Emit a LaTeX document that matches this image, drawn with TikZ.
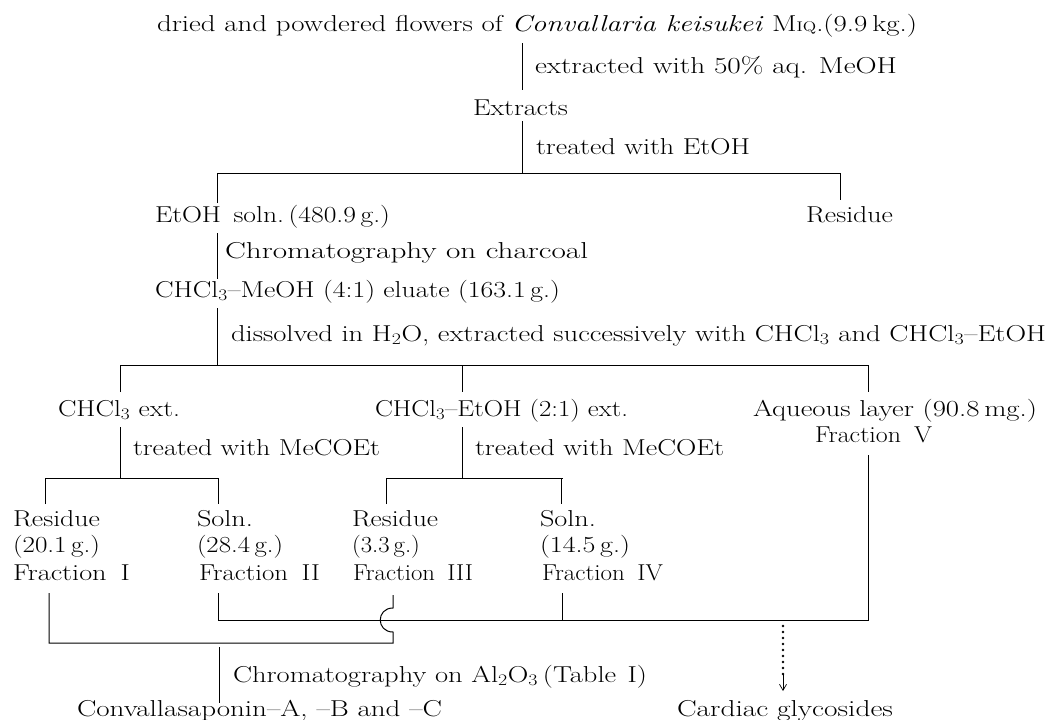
\documentclass[tikz,border=0pt]{standalone}
\usepackage{fontspec}
\usepackage{graphicx}
\usetikzlibrary{arrows.meta}
\newcommand\fitto[2]{\resizebox{#1pt}{\height}{#2}}
\newcommand\chl{CHCl\textsubscript{3}}
\begin{document}
\begin{tikzpicture}[x=1pt,y=-1pt,
  tx/.style={anchor=base west, inner sep=0pt, outer sep=0pt, font=\fontsize{23}{27}\selectfont},
  ln/.style={line width=1pt, line cap=butt},
  dots/.style={line width=2.8pt, line cap=round, dash pattern=on 0pt off 6pt}]
\useasboundingbox (0,0) rectangle (1050,720);
% ---------- texts ----------
\node[tx] (top) at (157,31) {\fitto{760}{dried and powdered flowers of \textit{Convallaria keisukei} M{\fontsize{14}{14}\selectfont IQ}.(9.9\,kg.)}};
\node[tx] (s1) at (535,74) {\fitto{362}{extracted with 50\% aq. MeOH}};
\node[tx] (ext) at (473,115) {\fitto{95}{Extracts}};
\node[tx] (s2) at (536,154) {\fitto{214}{treated with EtOH}};
\node[tx] (etoh) at (155,222) {\fitto{235}{EtOH\hspace*{0.45em}soln.\,(480.9\,g.)}};
\node[tx] (res0) at (806,222) {\fitto{87}{Residue}};
\node[tx] (s3) at (225,258) {\fitto{363}{Chromatography on charcoal}};
\node[tx] (elu) at (155,297) {\fitto{405}{\chl--MeOH (4:1) eluate (163.1\,g.)}};
\node[tx] (s4) at (231,341) {\fitto{815}{dissolved in H\textsubscript{2}O, extracted successively with \chl{} and \chl--EtOH}};
\node[tx] (chx) at (58,416) {\fitto{122}{\chl\ ext.}};
\node[tx] (cex) at (375,416) {\fitto{253}{\chl--EtOH (2:1) ext.}};
\node[tx] (aq) at (753,416) {\fitto{284}{Aqueous layer (90.8\,mg.)}};
\node[tx] (fv) at (815,442) {\fitto{117}{Fraction\hspace*{0.5em}V}};
\node[tx] (s5) at (133,455) {\fitto{247}{treated with MeCOEt}};
\node[tx] (s6) at (475,455) {\fitto{249}{treated with MeCOEt}};
% column 1
\node[tx] (r1a) at (13,526) {\fitto{87}{Residue}};
\node[tx] (r1b) at (13,552) {\fitto{87}{(20.1\,g.)}};
\node[tx] (r1c) at (13,580) {\fitto{117}{Fraction\hspace*{0.5em}I}};
% column 2
\node[tx] (r2a) at (197,526) {\fitto{56}{Soln.}};
\node[tx] (r2b) at (197,552) {\fitto{86}{(28.4\,g.)}};
\node[tx] (r2c) at (199,580) {\fitto{121}{Fraction\hspace*{0.5em}II}};
% column 3
\node[tx] (r3a) at (352,526) {\fitto{86}{Residue}};
\node[tx] (r3b) at (352,552) {\fitto{68}{(3.3\,g.)}};
\node[tx] (r3c) at (353,580) {\fitto{120}{Fraction\hspace*{0.5em}III}};
% column 4
\node[tx] (r4a) at (540,526) {\fitto{56}{Soln.}};
\node[tx] (r4b) at (540,552) {\fitto{90}{(14.5\,g.)}};
\node[tx] (r4c) at (542,580) {\fitto{121}{Fraction\hspace*{0.5em}IV}};
% bottom
\node[tx] (s7) at (233,682) {\fitto{414}{Chromatography on Al\textsubscript{2}O\textsubscript{3}\,(Table\hspace*{0.4em}I)}};
\node[tx] (conv) at (77,716) {\fitto{365}{Convallasaponin--A, --B and --C}};
\node[tx] (card) at (677,716) {\fitto{216}{Cardiac glycosides}};
% ---------- junction coordinates ----------
\coordinate (a1) at (522,43);  \coordinate (a2) at (522,90);
\coordinate (b1) at (522,121); \coordinate (b2) at (522,173);
\coordinate (h1l) at (217,173); \coordinate (h1r) at (840,173);
\coordinate (t1l) at (217,203); \coordinate (t1r) at (840,200);
\coordinate (c1) at (217,233); \coordinate (c2) at (217,279);
\coordinate (d1) at (217,308); \coordinate (d2) at (217,365);
\coordinate (h2l) at (120,365); \coordinate (h2m) at (462,365); \coordinate (h2r) at (869,365);
\coordinate (t2l) at (120,392); \coordinate (t2m) at (462,392); \coordinate (t2r) at (868,392);
\coordinate (e1) at (120,427); \coordinate (e2) at (120,478);
\coordinate (f1) at (462,427); \coordinate (f2) at (462,478);
\coordinate (h3l) at (45,478); \coordinate (h3r) at (218,478);
\coordinate (t3l) at (45,504); \coordinate (t3r) at (218,504);
\coordinate (h4l) at (386,478); \coordinate (h4r) at (563,478);
\coordinate (t4l) at (386,504); \coordinate (t4r) at (561,504);
\coordinate (g1) at (868,455); \coordinate (g2) at (868,620);
\coordinate (p1) at (49,593); \coordinate (p2) at (49,643);
\coordinate (q1) at (218,593); \coordinate (q2) at (218,620);
\coordinate (m1) at (393,595); \coordinate (m2) at (393,608);
\coordinate (m3) at (393,632); \coordinate (m4) at (393,643);
\coordinate (n1) at (562,593); \coordinate (n2) at (562,620);
\coordinate (o1) at (219,647); \coordinate (o2) at (219,703);
\coordinate (k1) at (783,626); \coordinate (k2) at (783,674); \coordinate (k3) at (783,691);
% ---------- connectors ----------
\draw[ln] (a1) -- (a2);
\draw[ln] (b1) -- (b2);
\draw[ln] (t1l) -- (h1l) -- (h1r) -- (t1r);
\draw[ln] (c1) -- (c2);
\draw[ln] (d1) -- (d2);
\draw[ln] (t2l) -- (h2l) -- (h2r);
\draw[ln] (h2m) -- (t2m);
\draw[ln] (h2r -| t2r) -- (t2r);
\draw[ln] (e1) -- (e2);
\draw[ln] (f1) -- (f2);
\draw[ln] (t3l) -- (h3l) -- (h3r) -- (t3r);
\draw[ln] (t4l) -- (h4l) -- (h4r);
\draw[ln] (h4r -| t4r) -- (t4r);
\draw[ln] (g1) -- (g2) -- (q2) -- (q1);
\draw[ln] (n1) -- (n2);
\draw[ln] (p1) -- (p2) -- (m4) -- (m3) .. controls (376,632) and (376,608) .. (m2) -- (m1);
\draw[ln] (o1) -- (o2);
\draw[dots] (k1) -- (k2);
\draw[line width=0.7pt, -{Straight Barb[length=6pt,width=7pt]}] (k2) -- (k3);
\end{tikzpicture}
\end{document}
